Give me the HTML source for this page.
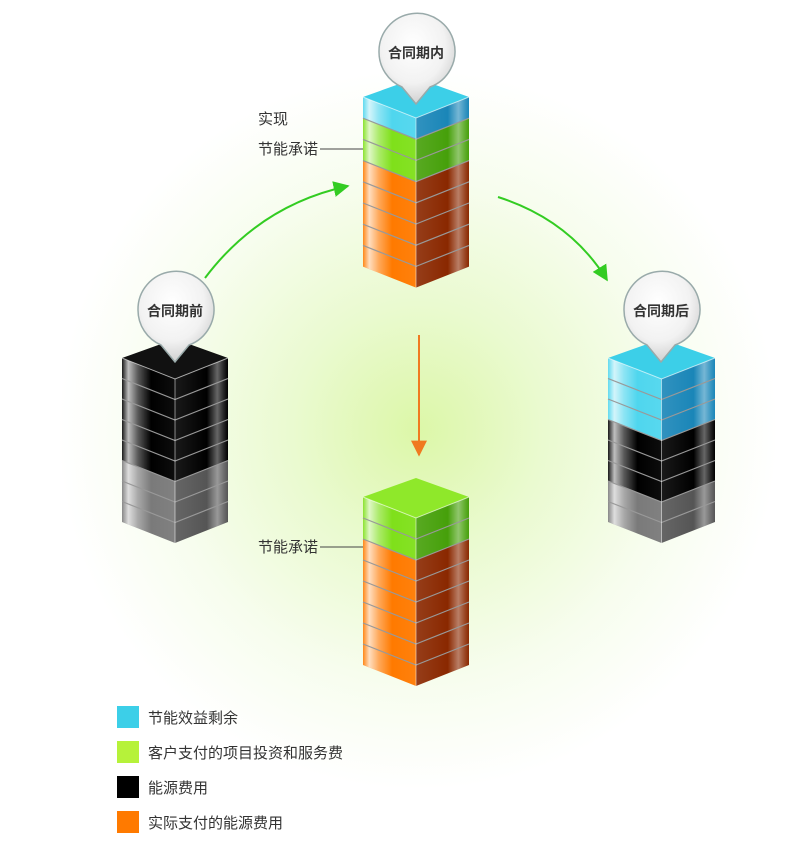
<!DOCTYPE html>
<html><head><meta charset="utf-8">
<style>
html,body{margin:0;padding:0;background:#fff;}
body{width:800px;height:849px;overflow:hidden;position:relative;font-family:"Liberation Sans","Noto Sans CJK SC",sans-serif;}
</style></head>
<body>
<svg id="s" width="800" height="849" viewBox="0 0 800 849" xmlns="http://www.w3.org/2000/svg">
<defs>
<radialGradient id="glow" cx="418" cy="430" r="360" gradientUnits="userSpaceOnUse">
<stop offset="0" stop-color="#dcf7a8"/><stop offset="0.35" stop-color="#eafad0"/><stop offset="0.7" stop-color="#f7fdee"/><stop offset="1" stop-color="#ffffff"/>
</radialGradient>
<linearGradient id="hiL" x1="0" x2="1" y1="0" y2="0">
<stop offset="0" stop-color="#fff" stop-opacity="0.1"/><stop offset="0.12" stop-color="#fff" stop-opacity="0.75"/><stop offset="0.3" stop-color="#fff" stop-opacity="0.35"/><stop offset="0.55" stop-color="#fff" stop-opacity="0"/><stop offset="1" stop-color="#fff" stop-opacity="0.05"/>
</linearGradient>
<linearGradient id="hiR" x1="0" x2="1" y1="0" y2="0">
<stop offset="0" stop-color="#fff" stop-opacity="0.1"/><stop offset="0.6" stop-color="#fff" stop-opacity="0"/><stop offset="0.8" stop-color="#fff" stop-opacity="0.4"/><stop offset="0.92" stop-color="#fff" stop-opacity="0.15"/><stop offset="1" stop-color="#fff" stop-opacity="0"/>
</linearGradient>
<radialGradient id="bub" cx="0.45" cy="0.35" r="0.7">
<stop offset="0" stop-color="#ffffff"/><stop offset="0.6" stop-color="#f2f2f2"/><stop offset="1" stop-color="#c9c9c9"/>
</radialGradient>
<marker id="ag" viewBox="0 0 10 10" refX="9" refY="5" markerWidth="8" markerHeight="8" orient="auto"><path d="M0,0 L10,5 L0,10 z" fill="#33cc22"/></marker>
<marker id="ao" viewBox="0 0 10 10" refX="9" refY="5" markerWidth="8" markerHeight="8" orient="auto"><path d="M0,0 L10,5 L0,10 z" fill="#f07a20"/></marker>
</defs>
<rect width="800" height="849" fill="url(#glow)"/>
<g id="towers"></g>
<path d="M205,278 Q260,205 348,186" fill="none" stroke="#33cc22" stroke-width="2" marker-end="url(#ag)"/>
<path d="M498,197 Q570,220 607,280" fill="none" stroke="#33cc22" stroke-width="2" marker-end="url(#ag)"/>
<line x1="419" y1="335" x2="419" y2="455" stroke="#f07a20" stroke-width="2" marker-end="url(#ao)"/>
<g id="bubbles"></g>
<g font-size="15" fill="#333">
<text x="258" y="124">实现</text>
<text x="258" y="154">节能承诺</text>
<line x1="320" y1="149" x2="363" y2="149" stroke="#444" stroke-width="1"/>
<text x="258" y="552">节能承诺</text>
<line x1="320" y1="547" x2="363" y2="547" stroke="#444" stroke-width="1"/>
</g>
<g font-size="15" fill="#333">
<rect x="117" y="706" width="22" height="22" fill="#3ccfe8"/><text x="148" y="723">节能效益剩余</text>
<rect x="117" y="741" width="22" height="22" fill="#b6f23a"/><text x="148" y="758">客户支付的项目投资和服务费</text>
<rect x="117" y="776" width="22" height="22" fill="#000"/><text x="148" y="793">能源费用</text>
<rect x="117" y="811" width="22" height="22" fill="#ff7a00"/><text x="148" y="828">实际支付的能源费用</text>
</g>
<g font-size="14" font-weight="bold" fill="#333" text-anchor="middle">
<text id="t1" x="416" y="58">合同期内</text>
<text id="t2" x="175" y="316">合同期前</text>
<text id="t3" x="661" y="316">合同期后</text>
</g>
</svg>
<script>
var NS="http://www.w3.org/2000/svg";
var C={b:["#4fd6ee","#1a86b8","#3ccfe8"],g:["#7fe01a","#46a00a","#8fe82a"],o:["#ff7a00","#8a2800","#ff8a10"],k:["#000","#000","#111"],gr:["#7a7a7a","#555","#888"]};
function el(t,a,p){var e=document.createElementNS(NS,t);for(var k in a)e.setAttribute(k,a[k]);p.appendChild(e);return e;}
function tower(L,R,top,lh,layers){
 var g=document.getElementById("towers");var cx=(L+R)/2,d=21,n=layers.length,bot=top+lh*n;
 for(var i=0;i<n;i++){var y=top+i*lh,c=C[layers[i]];
  el("polygon",{points:L+","+y+" "+cx+","+(y+d)+" "+cx+","+(y+d+lh)+" "+L+","+(y+lh),fill:c[0]},g);
  el("polygon",{points:cx+","+(y+d)+" "+R+","+y+" "+R+","+(y+lh)+" "+cx+","+(y+d+lh),fill:c[1]},g);}
 el("polygon",{points:L+","+top+" "+cx+","+(top+d)+" "+cx+","+(bot+d)+" "+L+","+bot,fill:"url(#hiL)"},g);
 el("polygon",{points:cx+","+(top+d)+" "+R+","+top+" "+R+","+bot+" "+cx+","+(bot+d),fill:"url(#hiR)"},g);
 for(var i=1;i<n;i++){var y=top+i*lh;el("polyline",{points:L+","+y+" "+cx+","+(y+d)+" "+R+","+y,fill:"none",stroke:"#999","stroke-width":1.2},g);}
 var c=C[layers[0]];
 el("polygon",{points:L+","+top+" "+cx+","+(top-19)+" "+R+","+top+" "+cx+","+(top+d),fill:c[2]},g);
 el("polyline",{points:L+","+top+" "+cx+","+(top+d)+" "+R+","+top,fill:"none",stroke:"#fff","stroke-opacity":0.6,"stroke-width":1},g);
 el("line",{x1:cx,y1:top+d,x2:cx,y2:bot+d,stroke:"#fff","stroke-opacity":0.5,"stroke-width":1},g);
}
tower(363,469,97,21.2,["b","g","g","o","o","o","o","o"]);
tower(122,228,358,20.5,["k","k","k","k","k","gr","gr","gr"]);
tower(608,715,358,20.5,["b","b","b","k","k","k","gr","gr"]);
tower(363,469,497,21,["g","g","o","o","o","o","o","o"]);
function bubble(x,y){var g=document.getElementById("bubbles");
 el("path",{d:"M"+(x-37)+","+y+" A38,38 0 1 1 "+(x+14)+","+(y+35)+" L"+x+","+(y+52)+" L"+(x-14)+","+(y+35)+" A38,38 0 0 1 "+(x-37)+","+y+" z",fill:"url(#bub)",stroke:"#9aa","stroke-width":1.5},g);}
bubble(416,52);bubble(175,310);bubble(661,310);
</script>
</body></html>
